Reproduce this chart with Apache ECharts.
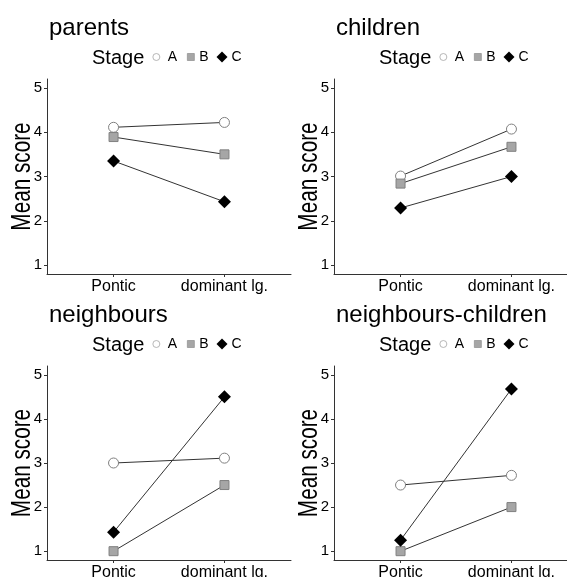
<!DOCTYPE html>
<html>
<head>
<meta charset="utf-8">
<script src="https://cdn.jsdelivr.net/npm/echarts@6/dist/echarts.min.js"></script>
<style>html,body{margin:0;padding:0;background:#fff}#c{width:567px;height:577px}</style>
</head>
<body>
<div id="c"></div>
<script>
// ---- data ----
const categories = ['Pontic', 'dominant lg.'];
const panelTitles = ['parents', 'children', 'neighbours', 'neighbours-children'];
const stages = ['A', 'B', 'C'];
const yTicks = [1, 2, 3, 4, 5];
const yTitle = 'Mean score';

const parentsA = [4.11, 4.22];
const parentsB = [3.89, 3.50];
const parentsC = [3.35, 2.43];

const childrenA = [3.01, 4.07];
const childrenB = [2.84, 3.67];
const childrenC = [2.29, 3.00];

const neighboursA = [3.00, 3.11];
const neighboursB = [1.00, 2.50];
const neighboursC = [1.43, 4.50];

const neighChildA = [2.50, 2.72];
const neighChildB = [1.00, 2.00];
const neighChildC = [1.25, 4.68];

const panelValues = [
  [parentsA, parentsB, parentsC],
  [childrenA, childrenB, childrenC],
  [neighboursA, neighboursB, neighboursC],
  [neighChildA, neighChildB, neighChildC]
];

// ---- layout / style ----
const FONT = 'Liberation Sans';
const grids = [
  {left: 47, top: 79, width: 244, height: 195},
  {left: 334, top: 79, width: 244, height: 195},
  {left: 47, top: 366, width: 244, height: 194},
  {left: 334, top: 366, width: 244, height: 194}
];
const titleTops = [16, 16, 303, 303];
const legendCenters = [57, 57, 344, 344];

const stageStyle = [
  {symbol: 'circle', symbolSize: 10, itemStyle: {color: '#ffffff', borderColor: '#808080', borderWidth: 1}},
  {symbol: 'rect', symbolSize: 9, itemStyle: {color: '#a6a6a6', borderColor: '#808080', borderWidth: 1}},
  {symbol: 'diamond', symbolSize: 13, itemStyle: {color: '#000000', borderColor: '#000000', borderWidth: 0}}
];
const legendIcons = ['circle', 'rect', 'diamond'];
const legendIconSize = [7, 7, 11];
const legendOffset = [-16.5, 18, 47.5];
const legendTextPad = [3, 0, -1];
const legendIconStyle = [
  {color: '#ffffff', borderColor: '#9a9a9a', borderWidth: 0.7},
  {color: '#a6a6a6', borderColor: '#8c8c8c', borderWidth: 0.7},
  {color: '#000000', borderWidth: 0}
];

const title = [], legend = [], xAxis = [], yAxis = [], series = [], graphic = [];
grids.forEach((g, i) => {
  const cx = g.left + g.width / 2;
  title.push({
    text: panelTitles[i], left: g.left + 2, top: titleTops[i], padding: 0,
    textStyle: {fontFamily: FONT, fontSize: 24, fontWeight: 'normal', color: '#000'}
  });
  title.push({
    text: 'Stage', left: cx - 77, top: legendCenters[i] - 9, padding: 0,
    textStyle: {fontFamily: FONT, fontSize: 20, fontWeight: 'normal', color: '#000'}
  });
  stages.forEach((s, k) => {
    legend.push({
      left: cx + legendOffset[k], top: legendCenters[i] - 7, orient: 'horizontal',
      itemWidth: legendIconSize[k], itemHeight: legendIconSize[k], padding: 0,
      textStyle: {fontFamily: FONT, fontSize: 14, color: '#000', padding: [0, 0, 0, legendTextPad[k]]},
      selectedMode: false,
      data: [{name: s, icon: legendIcons[k], itemStyle: legendIconStyle[k]}]
    });
  });
  // y-axis title (condensed, rotated)
  graphic.push({
    type: 'text', x: g.left - 24.5, y: g.top + g.height / 2, rotation: Math.PI / 2,
    scaleX: 0.74, silent: true,
    style: {text: yTitle, fontFamily: FONT, fontSize: 28, fill: '#000', align: 'center', verticalAlign: 'middle'}
  });
  xAxis.push({
    type: 'value', gridIndex: i, min: 0.4, max: 2.6,
    axisLine: {show: true, lineStyle: {color: '#333', width: 1}},
    axisTick: {show: true, length: 3, customValues: categories.map((c, k) => k + 1), lineStyle: {color: '#333'}},
    axisLabel: {
      customValues: categories.map((c, k) => k + 1),
      formatter: v => categories[Math.round(v) - 1] || '',
      fontFamily: FONT, fontSize: 16, color: '#000', margin: 5
    },
    splitLine: {show: false}
  });
  yAxis.push({
    type: 'value', gridIndex: i, min: 0.8, max: 5.2,
    axisLine: {show: true, lineStyle: {color: '#333', width: 1}},
    axisTick: {show: true, length: 3, customValues: yTicks, lineStyle: {color: '#333'}},
    axisLabel: {customValues: yTicks, fontFamily: FONT, fontSize: 15, color: '#000', margin: 5},
    splitLine: {show: false}
  });
  panelValues[i].forEach((vals, k) => {
    series.push(Object.assign({
      type: 'line', name: stages[k], xAxisIndex: i, yAxisIndex: i,
      data: vals.map((v, j) => [j + 1, v]),
      lineStyle: {color: '#333', width: 1},
      showAllSymbol: true, animation: false, silent: true
    }, JSON.parse(JSON.stringify(stageStyle[k]))));
  });
});

grids.forEach(g => { g.outerBoundsMode = 'none'; g.containLabel = false; });

const chart = echarts.init(document.getElementById('c'), null, {renderer: 'canvas'});
chart.setOption({
  animation: false,
  backgroundColor: '#fff',
  title, legend, graphic, grid: grids, xAxis, yAxis, series
});
</script>
</body>
</html>
